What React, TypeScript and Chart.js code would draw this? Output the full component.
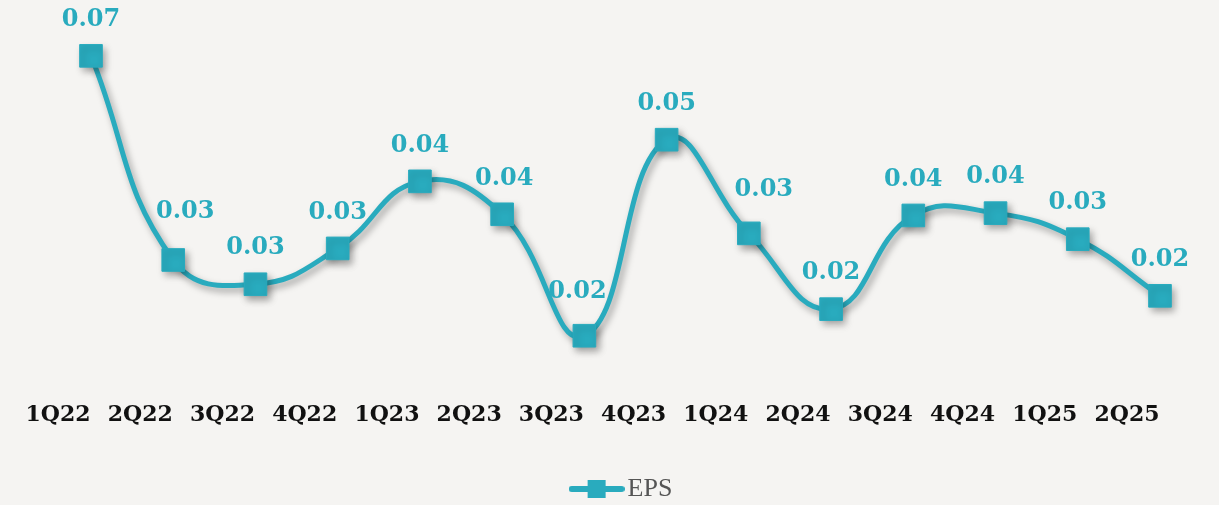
import React, { useEffect, useRef } from "react";
import { Chart, registerables } from "chart.js";

Chart.register(...registerables);

const quarters = ["1Q22", "2Q22", "3Q22", "4Q22", "1Q23", "2Q23", "3Q23", "4Q23", "1Q24", "2Q24", "3Q24", "4Q24", "1Q25", "2Q25"];
const epsValues = [0.0705, 0.0352, 0.031, 0.0372, 0.0488, 0.0431, 0.0221, 0.056, 0.0398, 0.0267, 0.0429, 0.0433, 0.0388, 0.029];
const epsLabels = ["0.07", "0.03", "0.03", "0.03", "0.04", "0.04", "0.02", "0.05", "0.03", "0.02", "0.04", "0.04", "0.03", "0.02"];

// label placement nudges (dx, extra lift) to keep value labels clear of the line
const labelNudgeX = [0, 12, 0, 0, 0, 2, -7, 0, 15, 0, 0, 0, 0, 0];
const labelNudgeY = [0, 12, 0, 0, 0, 0, 8, 0, 8, 0, 0, 0, 0, 0];

const TEAL = "#29abbe";
const BG = "#f5f4f2";

function makeLegendIcon(): HTMLCanvasElement {
  const c = document.createElement("canvas");
  c.width = 56;
  c.height = 20;
  const ctx = c.getContext("2d")!;
  ctx.strokeStyle = TEAL;
  ctx.lineWidth = 6;
  ctx.lineCap = "round";
  ctx.beginPath();
  ctx.moveTo(3, 10);
  ctx.lineTo(53, 10);
  ctx.stroke();
  ctx.fillStyle = TEAL;
  ctx.fillRect(19, 1, 18, 18);
  return c;
}

export default function App() {
  const ref = useRef<HTMLCanvasElement>(null);
  useEffect(() => {
    const canvas = ref.current!;
    const shadowPlugin = {
      id: "shadow",
      beforeDatasetsDraw(chart: any) {
        const ctx = chart.ctx;
        ctx.save();
        ctx.shadowColor = "rgba(0,0,0,0.35)";
        ctx.shadowBlur = 7;
        ctx.shadowOffsetX = 3;
        ctx.shadowOffsetY = 4;
      },
      afterDatasetsDraw(chart: any) {
        chart.ctx.restore();
      },
    };
    const labelPlugin = {
      id: "valueLabels",
      afterDraw(chart: any) {
        const ctx = chart.ctx;
        const meta = chart.getDatasetMeta(0);
        ctx.save();
        ctx.font = "bold 24px 'DejaVu Serif'";
        ctx.fillStyle = TEAL;
        ctx.textAlign = "center";
        ctx.textBaseline = "middle";
        meta.data.forEach((pt: any, i: number) => {
          ctx.fillText(epsLabels[i], pt.x + labelNudgeX[i], pt.y - 36 - labelNudgeY[i]);
        });
        ctx.restore();
      },
    };
    const bgPlugin = {
      id: "bg",
      beforeDraw(chart: any) {
        const ctx = chart.ctx;
        ctx.save();
        ctx.fillStyle = BG;
        ctx.fillRect(0, 0, chart.width, chart.height);
        ctx.restore();
      },
    };
    const chart = new Chart(canvas, {
      type: "line",
      data: {
        labels: quarters,
        datasets: [
          {
            label: "EPS",
            data: epsValues,
            borderColor: TEAL,
            backgroundColor: TEAL,
            borderWidth: 5,
            tension: 0.45,
            pointStyle: "rect",
            pointRadius: 16,
            pointHoverRadius: 16,
            pointBackgroundColor: TEAL,
            pointBorderColor: TEAL,
            pointBorderWidth: 1,
            clip: false as any,
          },
        ],
      },
      options: {
        animation: false,
        responsive: false,
        maintainAspectRatio: false,
        layout: { padding: { top: 20, left: 91, right: 59, bottom: -7 } },
        scales: {
          x: {
            offset: false,
            grid: { display: false, drawTicks: false },
            border: { display: false },
            ticks: {
              color: "#111",
              font: { family: "'DejaVu Serif'", size: 22, weight: "bold" },
              labelOffset: -33,
              padding: 4,
              maxRotation: 0,
              minRotation: 0,
              autoSkip: false,
            },
            afterFit: (scale: any) => {
              scale.height += 38;
            },
          },
          y: {
            display: false,
            min: 0.0114,
            max: 0.0767,
          },
        },
        plugins: {
          legend: {
            position: "bottom",
            labels: {
              usePointStyle: true,
              pointStyle: makeLegendIcon() as any,
              pointStyleWidth: 36,
              boxHeight: 20,
              color: "#555",
              font: { family: "'Liberation Serif'", size: 26 },
              padding: 6,
            },
          },
          tooltip: { enabled: false },
        },
      },
      plugins: [bgPlugin, shadowPlugin, labelPlugin],
    });
    return () => chart.destroy();
  }, []);
  return (
    <div style={{ position: "absolute", left: 0, top: 0, width: 1219, height: 505 }}>
      <canvas ref={ref} width={1219} height={505} style={{ display: "block" }} />
    </div>
  );
}
